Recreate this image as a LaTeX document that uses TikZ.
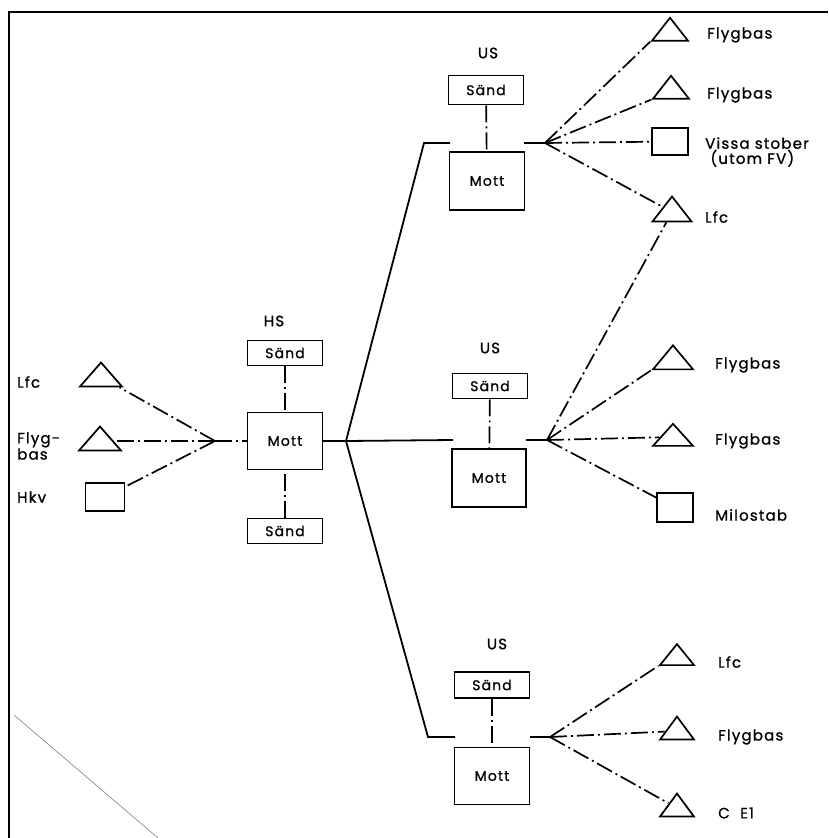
\documentclass[tikz,border=0pt]{standalone}
\usepackage{fontspec}
\setmainfont{Poppins}[LetterSpace=8,FakeBold=1]
\usepackage{tikz}
\usetikzlibrary{positioning,shapes.geometric}

\begin{document}
\begin{tikzpicture}[x=1pt,y=-1pt,
			box/.style={
				draw,
				line width=1.8pt,
				inner sep=0pt,
				font=\fontsize{14}{14}\selectfont},
			sendbox/.style={box,minimum width=75pt,minimum height=25pt},
			mottbox/.style={box,minimum width=75pt,minimum height=57pt},
			tri/.style={
				draw,
				line width=1.7pt,
				isosceles triangle,
				isosceles triangle stretches,
				shape border rotate=90,
				inner sep=0pt,
				minimum width=38pt,
				minimum height=23pt},
			sq/.style={draw,line width=1.7pt,inner sep=0pt,minimum width=37pt,minimum height=28pt},
			link/.style={line width=1.7pt,dash pattern=on 17pt off 4pt on 2pt off 4pt},
			trunk/.style={line width=1.8pt},
			lbl/.style={anchor=west,inner sep=0pt,align=left,font=\fontsize{15}{14}\selectfont},
			head/.style={inner sep=0pt,font=\fontsize{15}{15}\selectfont}]
			
			\useasboundingbox (0,0) rectangle (828,838);
			
			% frame of the scan
			\draw[line width=2.2pt] (828,12) -- (9,12) -- (9,838);
			\draw[gray,line width=0.6pt] (14,715) -- (158,838);
			
			% HS
			\node (hs)[head] at (274,321){HS};
			
			\node (hsS1)[sendbox] at (285,353){Sänd};
			
			\node (hsM)[mottbox] at (285,441){Mott};
			
			\node (hsS2)[sendbox] at (285,531){Sänd};
			
			\coordinate (hsJ) at (215,441);
			
			\coordinate (mainJ) at (346,441);
			
			\node (lfcL)[tri,minimum width=42pt,minimum height=24pt] at (101,377){};
			
			\node (fbL)[tri,minimum width=42pt,minimum height=24pt] at (100,441){};
			
			\node (hkv)[sq,minimum width=39pt] at (105,497){};
			
			\node (lfcLt)[lbl] at (17,382){Lfc};
			
			\node (fbLt)[lbl] at (17,446){Flyg-\\bas};
			
			\node (hkvt)[lbl] at (17,497){Hkv};
			
			\draw[link](hsS1)--(hsM);
			
			\draw[link](hsS2)--(hsM);
			
			\draw[link](hsJ)--(hsM);
			
			\draw[link](hsJ)--(lfcL);
			
			\draw[link](hsJ)--(fbL);
			
			\draw[link](hsJ)--(hkv);
			
			\draw[trunk](hsM)--(mainJ);
			
			% upper US
			\node (uUS)[head] at (488,53){US};
			
			\node (uS)[sendbox,minimum height=29pt] at (486,90){Sänd};
			
			\node (uM)[mottbox,minimum height=58pt] at (487,181){Mott};
			
			\coordinate (uIn) at (450,143);
			
			\coordinate (uOut) at (524,143);
			
			\coordinate (uJ) at (545,143);
			
			\node (fb1)[tri,minimum width=36pt] at (670,32){};
			
			\node (fb2)[tri,minimum width=36pt] at (671,90){};
			
			\node (vissa)[sq,minimum width=36pt,minimum height=27pt] at (670,141.5){};
			
			\node (lfcU)[tri,minimum width=39pt,minimum height=25pt] at (672,212){};
			
			\node (fb1t)[lbl] at (707,35){Flygbas};
			
			\node (fb2t)[lbl] at (707,95){Flygbas};
			
			\node (vissat)[lbl] at (705,152){Vissa stober\\\ (utom FV)};
			
			\node (lfcUt)[lbl] at (705,217){Lfc};
			
			\draw[trunk](mainJ)--(424,143)--(uIn);
			
			\draw[link](uS)--(uM);
			
			\draw[trunk](uOut)--(uJ);
			
			\draw[link](uJ)--(fb1.left corner);
			
			\draw[link](uJ)--(fb2.left corner);
			
			\draw[link](uJ)--(vissa);
			
			\draw[link](uJ)--(lfcU);
			
			% middle US
			\node (mUS)[head] at (490,348){US};
			
			\node (mS)[sendbox] at (490,386){Sänd};
			
			\node (mM)[mottbox,minimum width=74pt,minimum height=58pt] at (489,478){Mott};
			
			\coordinate (mIn) at (453,440);
			
			\coordinate (mOut) at (526,440);
			
			\coordinate (mJ) at (547,440);
			
			\node (fb3)[tri,minimum width=40pt,minimum height=24pt] at (673,360){};
			
			\node (fb4)[tri,minimum width=40pt,minimum height=22pt] at (673,437){};
			
			\node (milo)[sq,minimum width=36pt,minimum height=29pt] at (675,507.5){};
			
			\node (fb3t)[lbl] at (715,365){Flygbas};
			
			\node (fb4t)[lbl] at (715,441){Flygbas};
			
			\node (milot)[lbl] at (715,515){Milostab};
			
			\draw[trunk](mainJ)--(mIn);
			
			\draw[link](mS)--(mM);
			
			\draw[trunk](mOut)--(mJ);
			
			\draw[link](mJ)--(fb3.left corner);
			
			\draw[link](mJ)--(fb4);
			
			\draw[link](mJ)--(milo);
			
			\draw[link](mJ)--(lfcU);
			
			% lower US
			\node (lUS)[head] at (497,644){US};
			
			\node (lS)[sendbox,minimum height=26pt] at (492,685){Sänd};
			
			\node (lM)[mottbox] at (492,776){Mott};
			
			\coordinate (lIn) at (455,737);
			
			\coordinate (lOut) at (530,737);
			
			\coordinate (lJ) at (550,737);
			
			\node (lfcD)[tri,minimum width=34pt,minimum height=21pt] at (677,657){};
			
			\node (fb5)[tri,minimum width=34pt] at (677,731){};
			
			\node (ce1)[tri,minimum width=34pt] at (677,808){};
			
			\node (lfcDt)[lbl] at (718,662){Lfc};
			
			\node (fb5t)[lbl] at (718,737){Flygbas};
			
			\node (ce1t)[lbl] at (718,813){C\ \ E1};
			
			\draw[trunk](mainJ)--(428,737)--(lIn);
			
			\draw[link](lS)--(lM);
			
			\draw[trunk](lOut)--(lJ);
			
			\draw[link](lJ)--(lfcD.left corner);
			
			\draw[link](lJ)--(fb5);
			
			\draw[link](lJ)--(ce1);
			
		\end{tikzpicture}
\end{document}
